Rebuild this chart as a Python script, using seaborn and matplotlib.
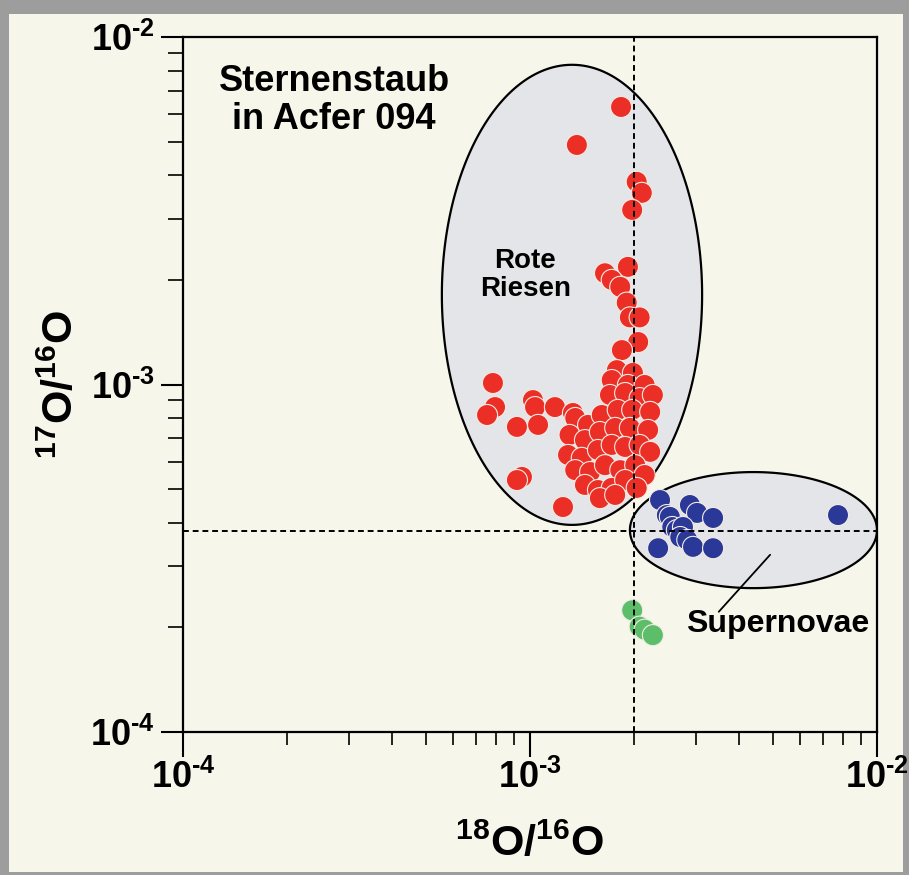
import numpy as np
import pandas as pd
import seaborn as sns
import matplotlib.pyplot as plt
from matplotlib.patches import Rectangle
from matplotlib.ticker import FuncFormatter, LogLocator, NullFormatter

# Sternenstaub-Koerner: 18O/16O (in 1e-3) und 17O/16O (in 1e-3 bzw. 1e-4)
red_x = [1.83, 1.365, 2.03, 2.10, 1.97, 1.915, 1.645, 1.72, 1.82, 1.90, 1.94, 2.07,
         2.05, 1.84, 1.78, 1.98,
         0.782, 0.793, 0.752, 1.02, 1.034, 0.917, 1.055, 1.18, 1.33, 0.948, 0.917, 1.245,
         1.72, 1.915, 2.14, 1.70, 1.88, 2.07, 2.26,
         1.35, 1.47, 1.61, 1.79, 1.97, 2.22,
         1.30, 1.44, 1.59, 1.76, 1.94, 2.19,
         1.287, 1.41, 1.57, 1.72, 1.88, 2.07, 2.22,
         1.35, 1.49, 1.645, 1.82, 2.01, 2.14,
         1.44, 1.57, 1.72, 1.88, 2.03, 1.59, 1.76]
red_y = [6.29, 4.89, 3.83, 3.56, 3.18, 2.18, 2.09, 2.00, 1.91, 1.72, 1.56, 1.56,
         1.325, 1.256, 1.10, 1.08,
         1.01, 0.861, 0.817, 0.902, 0.861, 0.755, 0.765, 0.861, 0.828, 0.542, 0.531, 0.444,
         1.03, 0.997, 0.997, 0.933, 0.945, 0.914, 0.933,
         0.801, 0.765, 0.817, 0.845, 0.845, 0.834,
         0.716, 0.692, 0.730, 0.750, 0.750, 0.740,
         0.627, 0.615, 0.648, 0.670, 0.661, 0.670, 0.640,
         0.567, 0.560, 0.586, 0.567, 0.586, 0.549,
         0.514, 0.497, 0.504, 0.531, 0.504, 0.471, 0.481]

blue_x = [2.37, 2.48, 2.53, 2.89, 3.03, 3.37, 2.57, 2.65, 2.76, 2.71, 2.84, 2.34, 2.95, 3.37, 7.72]
blue_y = [4.65, 4.21, 4.16, 4.50, 4.27, 4.13, 3.89, 3.81, 3.89, 3.64, 3.57, 3.38, 3.41, 3.38, 4.21]

green_x = [1.97, 2.07, 2.14, 2.26]
green_y = [2.24, 2.01, 1.97, 1.90]

sun_x = 2.0e-3   # solares 18O/16O
sun_y = 3.8e-4   # solares 17O/16O

df = pd.DataFrame({
    "o18": np.concatenate([np.array(red_x) * 1e-3, np.array(blue_x) * 1e-3, np.array(green_x) * 1e-3]),
    "o17": np.concatenate([np.array(red_y) * 1e-3, np.array(blue_y) * 1e-4, np.array(green_y) * 1e-4]),
    "gruppe": ["rot"] * len(red_x) + ["blau"] * len(blue_x) + ["gruen"] * len(green_x),
})

sns.set_theme(style="ticks")
plt.rcParams["font.family"] = ["Liberation Sans", "DejaVu Sans"]
plt.rcParams["font.weight"] = "bold"
plt.rcParams["text.color"] = "black"
plt.rcParams["axes.labelcolor"] = "black"
plt.rcParams["xtick.color"] = "black"
plt.rcParams["ytick.color"] = "black"
plt.rcParams["mathtext.fontset"] = "custom"
plt.rcParams["mathtext.rm"] = "Liberation Sans"
plt.rcParams["mathtext.bf"] = "Liberation Sans:bold"

cream = "#F6F7EA"
fig = plt.figure(figsize=(9.09, 8.75), dpi=100, facecolor="#9d9d9d")
fig.patches.append(Rectangle((9 / 909, 3 / 875), 894 / 909, 858 / 875,
                             transform=fig.transFigure, facecolor=cream,
                             edgecolor="none", zorder=-5))
ax = fig.add_axes([183 / 909, 143 / 875, 694 / 909, 695 / 875])
ax.set_facecolor(cream)
ax.set_xscale("log")
ax.set_yscale("log")
ax.set_xlim(1e-4, 1e-2)
ax.set_ylim(1e-4, 1e-2)


def ellipse(cx, cy, hw, hh, **kw):
    # Ellipse im log-Raum
    t = np.linspace(0, 2 * np.pi, 300)
    ax.fill(10 ** (cx + hw * np.cos(t)), 10 ** (cy + hh * np.sin(t)),
            facecolor="#E4E5E8", edgecolor="black", linewidth=1.6, zorder=1, **kw)


ellipse(-2.879, -2.742, 0.375, 0.662)
ellipse(-2.356, -3.419, 0.356, 0.167)

sns.scatterplot(data=df, x="o18", y="o17", hue="gruppe", ax=ax,
                palette={"rot": "#EC2F26", "blau": "#2A3897", "gruen": "#5DBE6A"},
                s=230, edgecolor="#f4ece6", linewidth=0.8, legend=False, zorder=3)

ax.axvline(sun_x, color="black", linestyle=(0, (3, 2)), linewidth=1.4, zorder=4)
ax.axhline(sun_y, color="black", linestyle=(0, (3, 2)), linewidth=1.4, zorder=4)

for s in ax.spines.values():
    s.set_linewidth(1.6)
    s.set_color("black")

# kurzer Bindestrich im Exponenten wie im Original
fmt = FuncFormatter(lambda v, pos: "$\\mathbf{10^{\u2010%d}}$" % abs(round(np.log10(v))))
for axis in (ax.xaxis, ax.yaxis):
    axis.set_major_locator(LogLocator(base=10, numticks=5))
    axis.set_minor_locator(LogLocator(base=10, subs=np.arange(2, 10), numticks=20))
    axis.set_major_formatter(fmt)
    axis.set_minor_formatter(NullFormatter())

ax.tick_params(axis="x", which="major", length=18, width=1.5, pad=2, labelsize=26)
ax.tick_params(axis="x", which="minor", length=9.5, width=1.2)
ax.tick_params(axis="y", which="major", length=16, width=1.5, pad=4, labelsize=26)
ax.tick_params(axis="y", which="minor", length=11, width=1.2)

ax.set_xlabel(r"$\mathbf{{}^{18}O/{}^{16}O}$", fontsize=31, labelpad=20)
ax.set_ylabel(r"$\mathbf{{}^{17}O/{}^{16}O}$", fontsize=31, labelpad=6)

ax.text(0.2176, 0.909, "Sternenstaub\nin Acfer 094", transform=ax.transAxes,
        ha="center", va="center", fontsize=26, fontweight="bold", linespacing=1.1, zorder=5)
ax.text(0.493, 0.658, "Rote\nRiesen", transform=ax.transAxes,
        ha="center", va="center", fontsize=20, fontweight="bold", linespacing=1.1, zorder=5)
ax.text(0.857, 0.155, "Supernovae", transform=ax.transAxes,
        ha="center", va="center", fontsize=23, fontweight="bold", zorder=5)
ax.plot([0.846, 0.772], [0.255, 0.173], transform=ax.transAxes, color="black",
        linewidth=1.3, zorder=5)

plt.savefig("out.png", dpi=100, facecolor=fig.get_facecolor())
